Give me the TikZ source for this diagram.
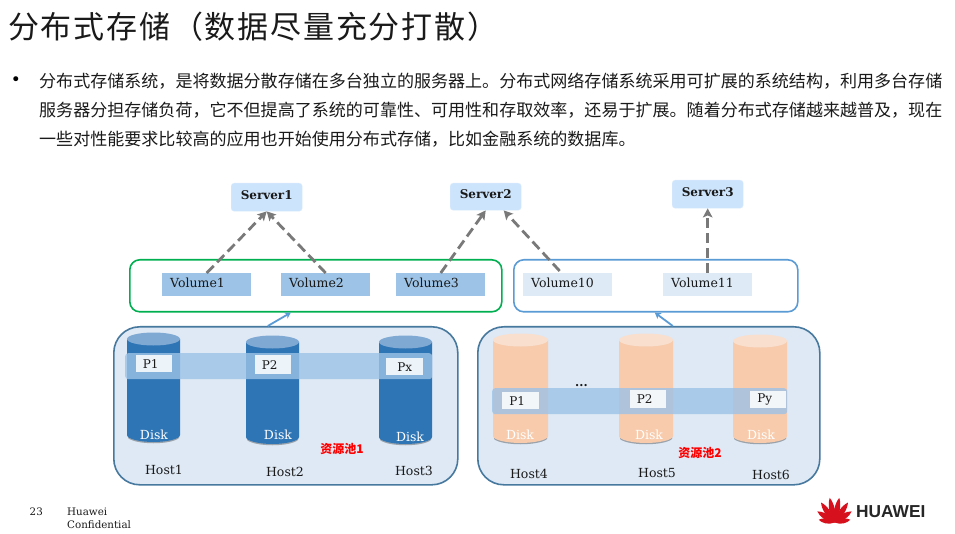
\documentclass[tikz,border=0pt]{standalone}
\usepackage{fontspec}
\usetikzlibrary{arrows.meta}
\setmainfont{DejaVu Serif}
\newfontfamily\cjk{Noto Sans CJK SC}
\newfontfamily\logofont{Liberation Sans}
\definecolor{inkc}{HTML}{1A1A1A}
\definecolor{srvc}{HTML}{CCE4FC}
\definecolor{volA}{HTML}{9DC3E6}
\definecolor{volB}{HTML}{DEEBF7}
\definecolor{poolfill}{HTML}{DEE9F5}
\definecolor{poolline}{HTML}{47799F}
\definecolor{greenl}{HTML}{00B050}
\definecolor{bluel}{HTML}{5B9BD5}
\definecolor{dblue}{HTML}{2E75B6}
\definecolor{dtop}{HTML}{7FA9D3}
\definecolor{orbody}{HTML}{F7CBAC}
\definecolor{ortop}{HTML}{F9DFCE}
\definecolor{hwred}{HTML}{D7101E}
\tikzset{
  x=1pt,y=-1pt,
  txt/.style={inner sep=0pt,font=\fontsize{12.5}{14}\selectfont,text=inkc},
  serverbox/.style={fill=srvc,draw=srvc!70!white,rounded corners=3pt,anchor=north west,inner sep=0pt,
    font=\bfseries\fontsize{12}{14}\selectfont,text=inkc,minimum width=71pt,text depth=5pt},
  vol/.style={anchor=north west,inner xsep=8pt,inner ysep=0pt,text width=73pt,align=left,minimum height=23pt,
    font=\fontsize{12.5}{14}\selectfont,text=inkc,text depth=3pt},
  group/.style={anchor=north west,rounded corners=10pt,line width=1.6pt,inner sep=0pt,minimum height=52pt},
  pool/.style={anchor=north west,fill=poolfill,draw=poolline,line width=1.6pt,rounded corners=26pt,inner sep=0pt,minimum height=158pt},
  band/.style={anchor=north west,fill=volA,fill opacity=.8,rounded corners=3pt,inner sep=0pt,minimum height=26pt},
  pbox/.style={anchor=north west,fill=white,fill opacity=.85,text opacity=1,inner sep=0pt,minimum width=37pt,
    font=\fontsize{12}{14}\selectfont,text=inkc},
  disklabel/.style={inner sep=0pt,text=white,font=\fontsize{12.5}{14}\selectfont},
  pooltag/.style={inner sep=0pt,text=red,font=\cjk\bfseries\fontsize{12}{14}\selectfont},
  dasharrow/.style={draw=gray!95!black,line width=2.8pt,dash pattern=on 10pt off 5pt,-{Stealth[length=9pt,width=9.5pt,inset=2pt]}},
  uparrow/.style={draw=bluel,line width=1.8pt,-{Stealth[length=6pt,width=7pt]}},
  body/.style={anchor=west,inner sep=0pt,text=inkc,font=\cjk\fontsize{17.04}{19}\selectfont},
  foot/.style={anchor=west,inner sep=0pt,text=inkc,font=\fontsize{10.3}{12}\selectfont},
}
\newcommand{\drumdisk}[6]{%
  \fill[black,opacity=.3] ({#1+1},{#4-8}) -- ({#2-1},{#4-8}) -- ({#2-1},{#4-5}) .. controls ({#2-9},{#4+2}) and ({#1+9},{#4+2}) .. ({#1+1},{#4-5}) -- cycle;
  \fill[#5] (#1,#3) -- (#2,#3) -- ({#2},{#4-8})
     .. controls ({#2},{#4-4}) and ({#1+(#2-#1)*.75},{#4-1}) .. ({(#1+#2)/2},{#4-1})
     .. controls ({#1+(#2-#1)*.25},{#4-1}) and ({#1},{#4-4}) .. ({#1},{#4-8}) -- cycle;
  \fill[#6] ({(#1+#2)/2},#3) ellipse[x radius={(#2-#1)/2},y radius=6.5];
}
\newcommand{\ptext}[1]{\raisebox{-1pt}{\kern-7pt #1}}
\begin{document}
\begin{tikzpicture}
\useasboundingbox (0,0) rectangle (955,534);
\fill[white] (0,0) rectangle (955,534);

% heading
\node[anchor=west,inner sep=0pt,text=inkc,font=\cjk\fontsize{31}{34}\selectfont\addfontfeature{LetterSpace=5.8}] (title) at (8,27) {分布式存储（数据尽量充分打散）};
\node[anchor=center,inner sep=0pt,text=black,font=\fontsize{17}{18}\selectfont] (bullet) at (16,81) {•};
\node[body] (l1) at (39,81) {分布式存储系统，是将数据分散存储在多台独立的服务器上。分布式网络存储系统采用可扩展的系统结构，利用多台存储};
\node[body] (l2) at (39,110) {服务器分担存储负荷，它不但提高了系统的可靠性、可用性和存取效率，还易于扩展。随着分布式存储越来越普及，现在};
\node[body] (l3) at (39,139) {一些对性能要求比较高的应用也开始使用分布式存储，比如金融系统的数据库。};

% servers
\node[serverbox,minimum height=28pt] (s1) at (231,183) {Server1};
\node[serverbox,minimum height=27pt] (s2) at (450,183) {Server2};
\node[serverbox,minimum height=28pt] (s3) at (672,180) {Server3};

% volume groups
\node[group,draw=greenl,minimum width=372pt] (gA) at (129,259) {};
\node[group,draw=bluel,minimum width=284pt] (gB) at (513,259) {};
\node[vol,fill=volA] (v1) at (162,273) {Volume1};
\node[vol,fill=volA] (v2) at (281,273) {Volume2};
\node[vol,fill=volA] (v3) at (396,273) {Volume3};
\node[vol,fill=volB] (v10) at (523,273) {Volume10};
\node[vol,fill=volB] (v11) at (663,273) {Volume11};

% pools
\node[pool,minimum width=344pt] (p1) at (113,326) {};
\node[pool,minimum width=342pt] (p2) at (477,326) {};

% disks
\drumdisk{127}{180}{339}{443}{dblue}{dtop}
\drumdisk{246}{299}{342}{445}{dblue}{dtop}
\drumdisk{379}{432}{342}{445}{dblue}{dtop}
\drumdisk{493}{548}{340}{444}{orbody}{ortop}
\drumdisk{619}{673}{340}{444}{orbody}{ortop}
\drumdisk{733}{787}{341}{444}{orbody}{ortop}

% stripes
\node[band,minimum width=307pt] (b1) at (125,353) {};
\node[band,minimum width=295pt] (b2) at (492,388) {};
\node[pbox,minimum width=36pt,minimum height=17pt] (a1) at (136,355) {\ptext{P1}};
\node[pbox,minimum width=36pt,minimum height=19pt] (a2) at (255,355) {\ptext{P2}};
\node[pbox,minimum height=17pt] (a3) at (386,358) {\raisebox{-1pt}{Px}};
\node[pbox,minimum height=17pt] (c1) at (502,392) {\ptext{P1}};
\node[pbox,minimum width=36pt,minimum height=18pt] (c2) at (630,390) {\raisebox{0pt}{\kern-7pt P2}};
\node[pbox,minimum width=36pt,minimum height=17pt] (c3) at (750,391) {\ptext{Py}};

% labels in pools
\node[disklabel] (d1) at (154,435) {Disk};
\node[disklabel] (d2) at (278,435) {Disk};
\node[disklabel] (d3) at (410,437) {Disk};
\node[disklabel] (d4) at (520,435) {Disk};
\node[disklabel] (d5) at (649,435) {Disk};
\node[disklabel] (d6) at (761,435) {Disk};
\node[txt] (h1) at (164,470) {Host1};
\node[txt] (h2) at (285,472) {Host2};
\node[txt] (h3) at (414,471) {Host3};
\node[txt] (h4) at (529,474) {Host4};
\node[txt] (h5) at (657,473) {Host5};
\node[txt] (h6) at (771,475) {Host6};
\node[pooltag] (t1) at (342,449) {资源池1};
\node[pooltag] (t2) at (700,453) {资源池2};
\node[txt,font=\bfseries\fontsize{12}{12}\selectfont] (dots) at (581.5,386) {...};

% connectors
\draw[dasharrow] (v1.north) -- (s1.south);
\draw[dasharrow] (v2.north) -- (s1.south);
\draw[dasharrow] (v3.north) -- (s2.south);
\draw[dasharrow] ([xshift=-8pt,yshift=2pt]v10.north) -- ([xshift=18pt]s2.south);
\draw[dasharrow] (v11.north) -- (s3.south);
\draw[uparrow] ([xshift=-18pt]p1.north) -- ([xshift=-25pt]gA.south);
\draw[uparrow] ([xshift=24pt]p2.north) -- ([xshift=-1pt]gB.south);

% footer
\node[foot] (pg) at (29.5,511.5) {23};
\node[foot] (f1) at (67,511.5) {Huawei};
\node[foot] (f2) at (67,524.5) {Confidential};

% logo
\foreach \ang/\len/\wid in {11/25/3.4,-11/25/3.4,34/24/3.4,-34/24/3.4,57/20.5/3.3,-57/20.5/3.3,80/16/3,-80/16/3}{
  \fill[hwred,shift={(834.5,522.5)},rotate=\ang] (0,0) .. controls ({-\wid*1.25},{-\len*.35}) and ({-\wid*.9},{-\len*.8}) .. (0,{-\len})
     .. controls ({\wid*.9},{-\len*.8}) and ({\wid*1.25},{-\len*.35}) .. (0,0) -- cycle;
}
\node[anchor=west,inner sep=0pt,text=black!85,font=\logofont\bfseries\fontsize{17.3}{20}\selectfont] (brand) at (856,512) {HUAWEI};
\end{tikzpicture}
\end{document}
